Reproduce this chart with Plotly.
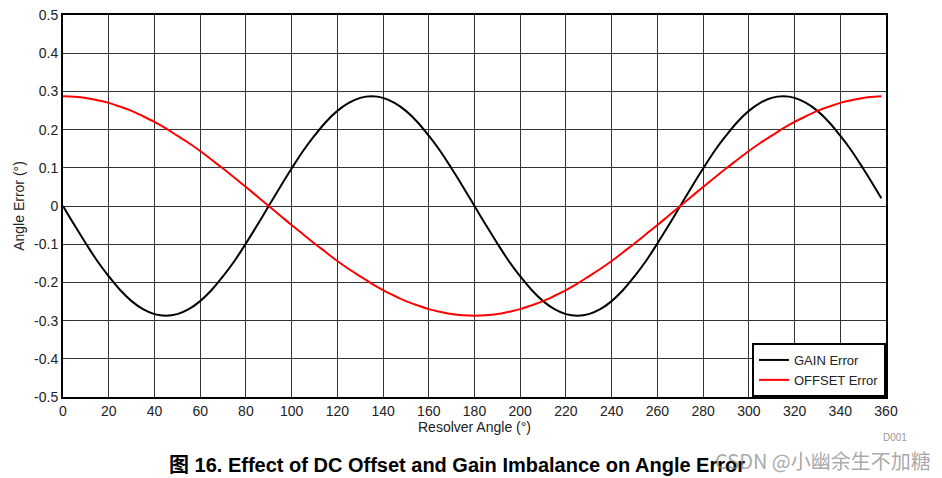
import plotly.graph_objects as go

angle = list(range(0, 360, 5)) + [358]

gain_error = [
    0.000, -0.050, -0.098, -0.144, -0.184, -0.220, -0.249, -0.270, -0.283, -0.287,
    -0.283, -0.270, -0.249, -0.220, -0.184, -0.144, -0.098, -0.050,
    0.000, 0.050, 0.098, 0.144, 0.184, 0.220, 0.249, 0.270, 0.283, 0.287,
    0.283, 0.270, 0.249, 0.220, 0.184, 0.144, 0.098, 0.050,
    0.000, -0.050, -0.098, -0.144, -0.184, -0.220, -0.249, -0.270, -0.283, -0.287,
    -0.283, -0.270, -0.249, -0.220, -0.184, -0.144, -0.098, -0.050,
    0.000, 0.050, 0.098, 0.144, 0.184, 0.220, 0.249, 0.270, 0.283, 0.287,
    0.283, 0.270, 0.249, 0.220, 0.184, 0.144, 0.098, 0.050,
    0.020,
]

offset_error = [
    0.287, 0.286, 0.283, 0.277, 0.270, 0.260, 0.249, 0.235, 0.220, 0.203,
    0.184, 0.165, 0.144, 0.121, 0.098, 0.074, 0.050, 0.025,
    0.000, -0.025, -0.050, -0.074, -0.098, -0.121, -0.144, -0.165, -0.184, -0.203,
    -0.220, -0.235, -0.249, -0.260, -0.270, -0.277, -0.283, -0.286,
    -0.287, -0.286, -0.283, -0.277, -0.270, -0.260, -0.249, -0.235, -0.220, -0.203,
    -0.184, -0.165, -0.144, -0.121, -0.098, -0.074, -0.050, -0.025,
    0.000, 0.025, 0.050, 0.074, 0.098, 0.121, 0.144, 0.165, 0.184, 0.203,
    0.220, 0.235, 0.249, 0.260, 0.270, 0.277, 0.283, 0.286,
    0.287,
]

x_ticks = list(range(0, 361, 20))
y_ticks = [0.5, 0.4, 0.3, 0.2, 0.1, 0, -0.1, -0.2, -0.3, -0.4, -0.5]
y_tick_labels = ["0.5", "0.4", "0.3", "0.2", "0.1", "0", "-0.1", "-0.2", "-0.3", "-0.4", "-0.5"]

FONT = "Liberation Sans, Arial, Noto Sans CJK SC, sans-serif"

fig = go.Figure()
fig.add_trace(go.Scatter(x=angle, y=gain_error, mode="lines", name="GAIN Error",
                         line=dict(color="black", width=2, shape="spline")))
fig.add_trace(go.Scatter(x=angle, y=offset_error, mode="lines", name="OFFSET Error",
                         line=dict(color="#ff0000", width=2, shape="spline")))

fig.update_layout(
    width=934, height=470,
    margin=dict(l=55, r=56, t=7, b=81, autoexpand=False),
    paper_bgcolor="white", plot_bgcolor="white",
    font=dict(family=FONT, size=13, color="#222"),
    showlegend=True,
    legend=dict(x=1, y=0, xanchor="right", yanchor="bottom",
                bgcolor="white", bordercolor="black", borderwidth=2,
                font=dict(size=13, color="#222"), tracegroupgap=0,
                itemwidth=30),
    xaxis=dict(range=[0, 360], tickvals=x_ticks, showgrid=True, gridcolor="#333",
               gridwidth=1, zeroline=False, showline=True, linecolor="black",
               linewidth=2, mirror=True, ticks="", ticklen=0, automargin=False,
               tickfont=dict(size=14), ticklabeloverflow="allow",
               title=dict(text="Resolver Angle (°)", standoff=0, font=dict(size=14))),
    yaxis=dict(range=[-0.5, 0.5], tickvals=y_ticks, ticktext=y_tick_labels,
               showgrid=True, gridcolor="#333", gridwidth=1, zeroline=False,
               showline=True, linecolor="black", linewidth=2, mirror=True,
               ticks="", automargin=False, tickfont=dict(size=14),
               ticklabeloverflow="allow",
               title=dict(text="Angle Error (°)", standoff=6, font=dict(size=14))),
)

fig.add_annotation(text="<b>图 16. Effect of DC Offset and Gain Imbalance on Angle Error</b>",
                   xref="paper", yref="paper", x=0.479, y=-0.178, xanchor="center",
                   yanchor="middle", showarrow=False, font=dict(size=20, color="black", family=FONT))
fig.add_annotation(text="D001", xref="paper", yref="paper", x=1.011, y=-0.105,
                   xanchor="center", yanchor="middle", showarrow=False,
                   font=dict(size=10, color="#999"))
fig.add_annotation(text="CSDN @小幽余生不加糖", xref="paper", yref="paper", x=0.923, y=-0.165,
                   xanchor="center", yanchor="middle", showarrow=False,
                   font=dict(size=20, color="rgba(130,130,130,0.7)",
                             family="Noto Sans CJK SC, Liberation Sans, sans-serif"))

fig.write_html("out.html")
